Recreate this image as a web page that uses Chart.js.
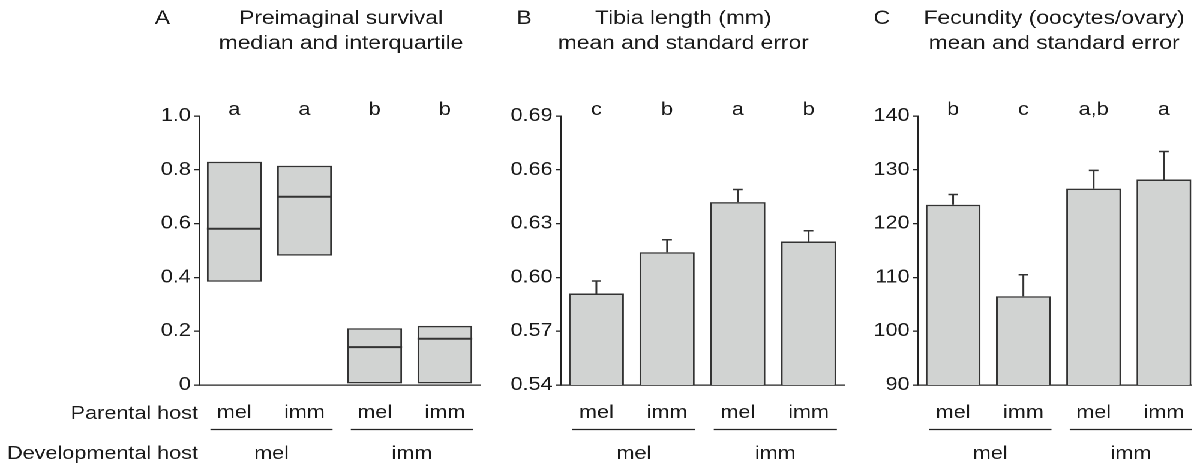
<!DOCTYPE html>
<html>
<head>
<meta charset="utf-8">
<script src="https://cdn.jsdelivr.net/npm/chart.js@4.4.0/dist/chart.umd.min.js"></script>
<style>
    html, body { margin: 0; padding: 0; background: #fff; width: 1192px; height: 466px; overflow: hidden; }
    /* the original figure is stretched sideways, so the whole set is drawn narrow and widened */
    #wrap { position: absolute; left: 0; top: 0; width: 1010px; height: 466px; transform: scaleX(1.2); transform-origin: 0 0; }
    canvas { position: absolute; top: 0; }
</style>
</head>
<body>
<div id="wrap">
    <canvas id="chartA" width="410" height="466" style="left:0px"></canvas>
    <canvas id="chartB" width="300" height="466" style="left:410px"></canvas>
    <canvas id="chartC" width="300" height="466" style="left:710px"></canvas>
</div>
<script>
// DATA ----------------------------------------------------------------------------------
const parentalHost = ["mel", "imm", "mel", "imm"];
const devHost = ["mel", "imm"];

// A: preimaginal survival, median and interquartile
const survivalQ1 = [0.384, 0.481, 0.006, 0.006];
const survivalQ3 = [0.830, 0.815, 0.211, 0.220];
const survivalMedian = [0.581, 0.700, 0.141, 0.172];
const survivalSig = ["a", "a", "b", "b"];
const survivalTicks = [0, 0.2, 0.4, 0.6, 0.8, 1.0];

// B: tibia length, mean and standard error
const tibiaMean = [0.591, 0.614, 0.642, 0.620];
const tibiaSE = [0.007, 0.007, 0.007, 0.006];
const tibiaSig = ["c", "b", "a", "b"];
const tibiaTicks = [0.54, 0.57, 0.60, 0.63, 0.66, 0.69];

// C: fecundity, mean and standard error
const fecundityMean = [123.5, 106.5, 126.5, 128.2];
const fecunditySE = [1.9, 4.0, 3.4, 5.2];
const fecunditySig = ["b", "c", "a,b", "a"];
const fecundityTicks = [90, 100, 110, 120, 130, 140];

// STYLE ---------------------------------------------------------------------------------
const FONT = '"Liberation Sans", Arial, Helvetica, sans-serif';
const TEXT = '#1a1a1a';
const AXIS = '#222';
const EDGE = '#333';
const FILL = '#d1d3d2';

Chart.defaults.font.family = FONT;
Chart.defaults.font.size = 18;
Chart.defaults.color = TEXT;

// titles, significance letters, host rows
const panelText = {
    id: 'panelText',
    afterDraw(chart, args, o) {
        const { ctx, chartArea: a } = chart;
        const x = chart.scales.x;
        const w = (a.right - a.left) / parentalHost.length;
        ctx.save();
        ctx.fillStyle = TEXT;
        ctx.textBaseline = 'alphabetic';
        ctx.font = '19px ' + FONT;
        ctx.textAlign = 'left';
        ctx.fillText(o.letter, a.left - 37, 24);
        ctx.textAlign = 'center';
        const cx = (a.left + a.right) / 2 + o.shift;
        ctx.fillText(o.title[0], cx, 24);
        ctx.fillText(o.title[1], cx, 49);

        ctx.font = '18px ' + FONT;
        o.sig.forEach((s, i) => ctx.fillText(s, x.getPixelForValue(i), a.top - 1));

        // developmental host underline + label
        ctx.strokeStyle = AXIS;
        ctx.lineWidth = 1.3;
        devHost.forEach((lab, g) => {
            const x1 = x.getPixelForValue(2 * g) - 0.34 * w;
            const x2 = x.getPixelForValue(2 * g + 1) + 0.4 * w;
            ctx.beginPath();
            ctx.moveTo(x1, a.bottom + 44.5);
            ctx.lineTo(x2, a.bottom + 44.5);
            ctx.stroke();
            ctx.fillText(lab, (x1 + x2) / 2, a.bottom + 74);
        });

        if (o.rowLabels) {
            ctx.textAlign = 'right';
            ctx.fillText('Parental host', a.left - 1, a.bottom + 34);
            ctx.fillText('Developmental host', a.left - 1, a.bottom + 74);
        }
        ctx.restore();
    }
};

// median lines and error bars
const barMarks = {
    id: 'barMarks',
    afterDatasetsDraw(chart, args, o) {
        const ctx = chart.ctx;
        const y = chart.scales.y;
        const bars = chart.getDatasetMeta(0).data;
        ctx.save();
        ctx.strokeStyle = EDGE;
        bars.forEach((b, i) => {
            ctx.beginPath();
            if (o.median) {
                ctx.lineWidth = 2;
                const py = y.getPixelForValue(o.median[i]);
                ctx.moveTo(b.x - b.width / 2, py);
                ctx.lineTo(b.x + b.width / 2, py);
            } else {
                ctx.lineWidth = 1.5;
                const top = y.getPixelForValue(o.mean[i] + o.se[i]);
                ctx.moveTo(b.x, b.y);
                ctx.lineTo(b.x, top);
                ctx.moveTo(b.x - 4, top);
                ctx.lineTo(b.x + 4, top);
            }
            ctx.stroke();
        });
        ctx.restore();
    }
};

function yAxis(ticks, fmt) {
    return {
        min: ticks[0],
        max: ticks[ticks.length - 1],
        afterFit: s => { s.width = 45; },
        afterBuildTicks: s => { s.ticks = ticks.map(v => ({ value: v })); },
        grid: { drawOnChartArea: false, drawTicks: true, tickLength: 4, color: AXIS, lineWidth: 1.3 },
        border: { display: true, color: AXIS, width: 1.3 },
        ticks: { padding: 3, color: TEXT, callback: fmt }
    };
}

function makePanel(id, data, yScale, padLeft, padRight, text, marks) {
    const ctx = document.getElementById(id).getContext('2d');
    return new Chart(ctx, {
        type: 'bar',
        data: {
            labels: parentalHost,
            datasets: [{
                data: data,
                backgroundColor: FILL,
                borderColor: EDGE,
                borderWidth: 1.5,
                borderSkipped: false,
                barPercentage: 0.78,
                categoryPercentage: 1
            }]
        },
        options: {
            responsive: false,
            animation: false,
            devicePixelRatio: 2,
            layout: { padding: { left: padLeft, right: padRight, top: 116, bottom: 0 } },
            scales: {
                x: {
                    afterFit: s => { s.height = 81; },
                    grid: { display: false, drawTicks: false },
                    border: { display: true, color: AXIS, width: 1.3 },
                    ticks: { padding: 17, color: TEXT, maxRotation: 0, autoSkip: false }
                },
                y: yScale
            },
            plugins: {
                legend: { display: false },
                tooltip: { enabled: false },
                panelText: text,
                barMarks: marks
            }
        },
        plugins: [panelText, barMarks]
    });
}

// PANELS --------------------------------------------------------------------------------
makePanel('chartA',
    survivalQ1.map((q, i) => [q, survivalQ3[i]]),
    yAxis(survivalTicks, v => v === 0 ? '0' : v.toFixed(1)),
    121, 10,
    { letter: 'A', title: ['Preimaginal survival', 'median and interquartile'], shift: 1.2, sig: survivalSig, rowLabels: true },
    { median: survivalMedian });

makePanel('chartB',
    tibiaMean,
    yAxis(tibiaTicks, v => v.toFixed(2)),
    12.5, 6.7,
    { letter: 'B', title: ['Tibia length (mm)', 'mean and standard error'], shift: -16, sig: tibiaSig },
    { mean: tibiaMean, se: tibiaSE });

makePanel('chartC',
    fecundityMean,
    yAxis(fecundityTicks, v => String(v)),
    10, 10.8,
    { letter: 'C', title: ['Fecundity (oocytes/ovary)', 'mean and standard error'], shift: -3.7, sig: fecunditySig },
    { mean: fecundityMean, se: fecunditySE });
</script>
</body>
</html>
